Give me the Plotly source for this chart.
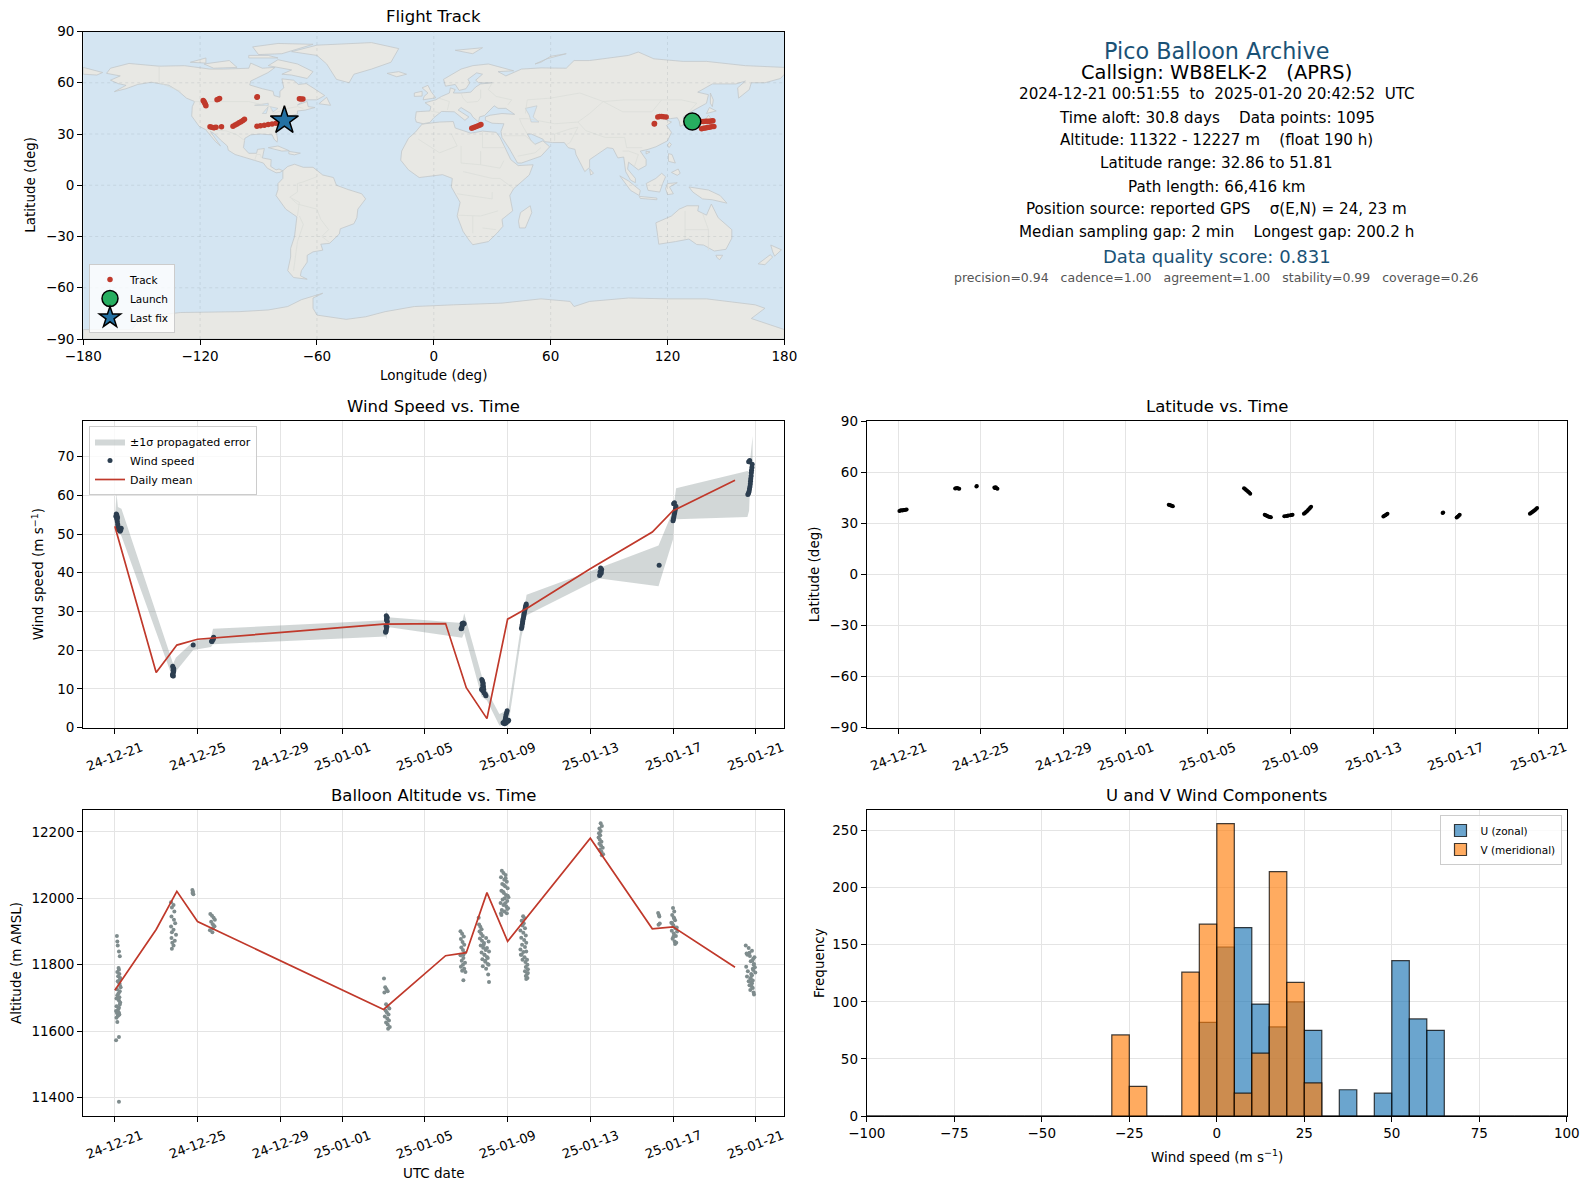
import pandas as pd
import plotly.graph_objects as go

# ---- values ----
date_ticks = ["2024-12-21", "2024-12-25", "2024-12-29", "2025-01-01", "2025-01-05",
              "2025-01-09", "2025-01-13", "2025-01-17", "2025-01-21"]
date_labels = ["24-12-21", "24-12-25", "24-12-29", "25-01-01", "25-01-05",
               "25-01-09", "25-01-13", "25-01-17", "25-01-21"]
date_range = ["2024-12-19 11:17", "2025-01-22 09:20"]

# track points (lon, lat)
track_lon = [137.5, 138.5, 139.5, 140.5, 141.5, 142.5, 143.3, 137.5, 138.5, 139.5, 140.5, 141.5, 142.5, 143.8,
             115, 116, 117, 118, 119.3, 113.2, 113.3,
             19.5, 20.5, 21.5, 22.5, 23.5, 24.2,
             -90.8, -89, -87, -85, -83, -81, -79, -77.5, -76,
             -103.1, -102, -101, -100, -99, -98, -97.2,
             -109, -114.9, -114, -113, -112.5, -111.8,
             -118.4, -118, -117.7, -117.3, -117, -110.7, -110, -111.3, -90.8, -90.6, -68.2, -67.2, -69]
track_lat = [37.3, 37.3, 37.4, 37.5, 37.5, 37.6, 37.7, 33, 33.3, 33.5, 33.8, 34, 34.2, 34.4,
             40, 40.2, 40.2, 40.1, 40, 35.9, 36.2,
             33.4, 33.8, 34.2, 34.7, 35.1, 35.5,
             34.5, 34.8, 35.1, 35.5, 35.9, 36.3, 36.8, 37.3, 37.9,
             34.5, 35.2, 35.9, 36.6, 37.2, 37.9, 38.6,
             34.3, 34.2, 33.9, 33.7, 33.8, 33.9,
             49.6, 49, 48.3, 47.4, 46.6, 50.4, 50.8, 50.1, 51.5, 51.8, 50.5, 50.5, 50.7]
launch_lon, launch_lat = [132.7], [37.3]
last_lon, last_lat = [-76.7], [37.9]

# wind speed samples, days since 2024-12-21
wind_days = [0.05, 0.07, 0.09, 0.11, 0.13, 0.08, 0.1, 0.12, 0.14, 0.15, 0.16, 0.17, 0.18, 0.2, 0.22, 0.25, 0.28, 0.31,
             2.8, 2.82, 2.84, 2.85, 2.83, 2.81, 2.8, 2.83, 2.85, 2.82, 2.79,
             3.79,
             4.68, 4.72, 4.75, 4.78, 4.7, 4.76,
             13.1, 13.12, 13.14, 13.16, 13.18, 13.15, 13.17, 13.13, 13.11, 13.12, 13.14, 13.16,
             16.75, 16.78, 16.8, 16.83, 16.86, 16.9, 16.78, 16.8,
             17.75, 17.78, 17.8, 17.82, 17.8, 17.83, 17.78, 17.74, 17.8, 17.86, 17.92, 17.95, 17.84,
             18.78, 18.82, 18.85, 18.88, 18.9, 18.92, 18.95, 18.98, 19.02, 19.05, 18.86, 18.9, 18.93, 18.96,
             19.67, 19.69, 19.7, 19.72, 19.73, 19.74, 19.76, 19.78, 19.79, 19.8, 19.82, 19.84, 19.86, 19.88, 19.89, 19.9,
             23.45, 23.48, 23.5, 23.52, 23.55, 23.5, 23.47, 23.53,
             26.33,
             27.0, 27.02, 27.04, 27.06, 27.08, 27.1, 27.12, 27.14, 27.03, 27.07,
             30.62, 30.65, 30.68, 30.7, 30.72, 30.74, 30.75, 30.76, 30.78, 30.79, 30.8, 30.82, 30.83, 30.66, 30.71]
wind_speed = [54.6, 55.2, 55, 54.6, 54.2, 54.3, 53.8, 53.2, 52.5, 52, 51.5, 51.2, 51.6, 51.1, 51.4, 50.7, 51, 51.5,
              15.8, 15.4, 15, 14.6, 14.2, 13.8, 13.4, 13.3, 15.2, 14.8, 13.6,
              21.3,
              22.3, 22.6, 23, 23.3, 22.2, 22.8,
              24.6, 25, 25.5, 26, 27.4, 28, 28.5, 28.9, 24.8, 26.2, 27.8, 28.3,
              25.5, 25.8, 26.2, 26.6, 27, 26.8, 25.6, 26.9,
              12.4, 12.1, 11.7, 11.3, 10.9, 10.5, 10.1, 9.8, 9.5, 9, 8.6, 8.2, 9.9,
              1.2, 1.1, 1.5, 2, 2.6, 3.2, 3.8, 4.3, 1.6, 1.9, 1, 1.3, 1.2, 1.7,
              25.6, 26, 26.5, 27, 27.4, 27.9, 28.3, 28.8, 29.2, 29.6, 30, 30.5, 31, 31.3, 31.6, 31.9,
              39.3, 39.6, 40, 40.4, 40.8, 41.2, 40.2, 39.9,
              41.9,
              53.4, 53.9, 54.4, 55, 55.5, 56, 56.6, 57.2, 57.8, 58.1,
              60.2, 60.5, 61, 61.6, 62.2, 62.9, 63.6, 64.3, 65, 65.8, 66.5, 67.2, 68, 68.7, 69]

# +/- 1 sigma band vertices
band_days = [0.02, 0.08, 0.15, 0.32, 2.82, 2.95, 3.79, 4.65, 4.75, 13.1, 13.14, 13.2, 16.8, 16.9, 17.74, 18.0,
             18.6, 19.03, 19.67, 19.92, 23.46, 26.3, 27.0, 27.05, 27.15, 30.6, 30.68, 30.75, 30.85]
band_lower = [53, 52, 51, 49.5, 12.5, 14.5, 20, 20.8, 21.5, 23.5, 22.8, 26, 23.2, 24.5, 8, 7,
              0.5, 0.5, 23.5, 29, 38.5, 36.5, 48.6, 53.8, 53.8, 54.4, 56, 65, 66]
band_upper = [55, 60.5, 57, 56.5, 16.5, 18, 22.2, 23.2, 25.5, 27.7, 30.5, 28.5, 27, 29.5, 13.5, 9.5,
              3.5, 4.5, 27, 34.3, 41.3, 47, 56, 58, 61.8, 66.3, 66, 70, 75.3]

mean_days = [0, 2, 3, 4, 13, 16, 17, 18, 19, 20, 23, 26, 27, 30]
wind_mean = [52, 14.2, 21.3, 22.8, 26.7, 26.85, 10.3, 2.3, 28, 31, 41, 50.5, 56, 63.9]

# latitude samples
lat_days = [0.05, 0.1, 0.15, 0.2, 0.25, 0.3, 0.35, 0.4,
            2.75, 2.8, 2.85, 2.9, 2.95, 3.78, 3.8, 4.65, 4.7, 4.75, 4.8, 4.72, 4.68,
            13.1, 13.15, 13.2, 13.25, 13.3,
            16.75, 16.8, 16.85, 16.9, 16.95, 17.0, 17.05,
            17.75, 17.8, 17.85, 17.9, 17.95, 18.0, 18.05,
            18.7, 18.8, 18.85, 18.9, 19.0, 19.05, 19.1,
            19.65, 19.7, 19.75, 19.8, 19.85, 19.9, 19.95, 20.0,
            23.5, 23.55, 23.6, 23.65, 23.7,
            26.37, 26.4, 27.05, 27.1, 27.15, 27.2,
            30.6, 30.65, 30.7, 30.75, 30.8, 30.85, 30.9, 30.95]
lat_deg = [37.2, 37.4, 37.6, 37.5, 37.7, 37.8, 37.9, 38,
           50.3, 50.5, 50.6, 50.4, 50.2, 51.6, 51.9, 51, 50.8, 50.5, 50.2, 51.1, 50.7,
           40.8, 40.6, 40.4, 40.2, 40,
           50.5, 50, 49.5, 49, 48.5, 48, 47.3,
           35, 34.7, 34.4, 34.1, 33.8, 33.6, 33.5,
           34.1, 34.2, 34.4, 34.5, 34.6, 34.8, 34.9,
           35.5, 36, 36.5, 37, 37.7, 38.3, 39, 39.7,
           33.9, 34.3, 34.7, 35.1, 35.5,
           36, 36.2, 33.3, 33.8, 34.4, 35,
           35.6, 36, 36.4, 36.8, 37.3, 37.8, 38.3, 38.9]

# altitude samples
alt_days = [0.1, 0.12, 0.14, 0.2, 0.24, 0.18, 0.2, 0.12, 0.22, 0.16, 0.26, 0.24, 0.14, 0.22, 0.24, 0.28, 0.1, 0.24, 0.18, 0.12,
            0.22, 0.08, 0.2, 0.26, 0.24, 0.08, 0.2, 0.16, 0.06, 0.2, 0.22, 0.14, 0.08, 0.18, 0.1, 0.12, 0.2, 0.06, 0.2,
            2.72, 2.84, 2.76, 2.88, 2.74, 2.86, 2.92, 2.72, 2.84, 2.76, 2.96, 2.74, 2.9, 2.78, 2.84, 2.76,
            3.75, 3.78, 3.8, 3.76,
            4.62, 4.7, 4.78, 4.84, 4.66, 4.74, 4.82, 4.74, 4.6, 4.72,
            13.02, 13.08, 13.14, 13.2, 13.04, 13.12, 13.2, 13.28, 13.1, 13.16, 13.24, 13.06, 13.18, 13.26, 13.12, 13.2, 13.3, 13.22,
            16.72, 16.8, 16.88, 16.74, 16.82, 16.9, 16.76, 16.84, 16.92, 16.72, 16.86, 16.78, 16.94, 16.84, 16.74, 16.9, 16.8, 16.96, 16.86, 16.86,
            17.6, 17.62, 17.68, 17.74, 17.64, 17.72, 17.8, 17.66, 17.76, 17.86, 17.7, 17.82, 17.94, 17.74, 17.88, 18.0, 17.78, 17.92, 18.04, 17.8,
            17.96, 18.08, 17.84, 18.0, 18.1, 17.88, 18.04, 17.92, 18.08, 17.96, 18.06, 18.1,
            18.72, 18.8, 18.9, 18.68, 18.84, 18.96, 18.74, 18.88, 19.0, 18.7, 18.82, 18.92, 19.04, 18.76, 18.86, 18.98, 18.66, 18.8, 18.94, 19.02,
            18.72, 18.84, 18.96, 18.7, 18.82, 18.9, 19.0, 18.78, 18.88, 18.68, 18.98,
            19.75, 19.82, 19.68, 19.78, 19.72, 19.84, 19.62, 19.76, 19.88, 19.66, 19.8, 19.9, 19.7, 19.84, 19.62, 19.76, 19.9, 19.64, 19.82, 19.94,
            19.68, 19.86, 19.96, 19.72, 19.88, 19.98, 19.84, 19.94, 19.88, 19.96, 19.9, 19.98,
            23.5, 23.56, 23.44, 23.5, 23.42, 23.48, 23.4, 23.46, 23.54, 23.44, 23.52, 23.6, 23.46, 23.54, 23.62, 23.56,
            26.28, 26.34, 26.3, 26.36, 26.32,
            27.0, 27.06, 26.96, 27.04, 27.1, 26.92, 27.02, 27.12, 26.94, 27.04, 27.14, 26.98, 27.08, 27.16, 27.1, 27.2, 26.96, 27.06, 27.18, 27.02,
            30.52, 30.66, 30.82, 30.56, 30.72, 30.88, 30.6, 30.76, 30.92, 30.54, 30.7, 30.86, 30.62, 30.78, 30.94, 30.58, 30.74, 30.9, 30.66,
            30.82, 30.96, 30.7, 30.86, 30.98, 30.74, 30.9, 30.76, 30.92, 30.78, 30.88, 30.8, 30.84, 30.82, 30.86]
alt_m = [11886, 11870, 11858, 11840, 11825, 11790, 11785, 11778, 11772, 11765, 11760, 11755, 11750, 11744, 11738, 11732, 11726, 11720, 11714, 11708,
         11702, 11698, 11692, 11686, 11680, 11675, 11670, 11665, 11660, 11655, 11650, 11645, 11640, 11648, 11654, 11627, 11582, 11572, 11387,
         11988, 11980, 11972, 11960, 11945, 11935, 11925, 11915, 11905, 11898, 11890, 11880, 11872, 11866, 11858, 11848,
         12025, 12020, 12012, 12016,
         11953, 11947, 11941, 11935, 11929, 11922, 11916, 11910, 11904, 11898,
         11758, 11732, 11726, 11720, 11716, 11681, 11674, 11668, 11662, 11656, 11650, 11644, 11638, 11632, 11626, 11620, 11612, 11607,
         11901, 11893, 11885, 11877, 11868, 11860, 11852, 11844, 11836, 11828, 11820, 11812, 11806, 11800, 11794, 11788, 11782, 11778, 11830, 11753,
         11941, 11921, 11914, 11907, 11900, 11893, 11886, 11879, 11872, 11865, 11858, 11851, 11844, 11837, 11830, 11823, 11816, 11809, 11802, 11795,
         11880, 11870, 11860, 11850, 11840, 11830, 11820, 11812, 11800, 11788, 11770, 11748,
         12083, 12076, 12070, 12063, 12056, 12050, 12043, 12036, 12030, 12023, 12016, 12010, 12003, 11996, 12000, 11992, 11986, 11980, 11975, 11970,
         11965, 11960, 11955, 11950, 12040, 12060, 12008, 12020, 11985, 11955, 11968,
         11946, 11940, 11932, 11925, 11918, 11910, 11903, 11896, 11888, 11881, 11874, 11866, 11860, 11853, 11846, 11838, 11840, 11830, 11822, 11815,
         11830, 11808, 11800, 11815, 11793, 11786, 11780, 11772, 11766, 11760, 11757, 11775,
         12226, 12218, 12210, 12203, 12196, 12190, 12183, 12176, 12170, 12164, 12158, 12152, 12146, 12140, 12133, 12130,
         11956, 11945, 11920, 11924, 11950,
         11971, 11960, 11950, 11942, 11934, 11926, 11918, 11910, 11902, 11894, 11886, 11878, 11870, 11866, 11862, 11900, 11925, 11938, 11912, 11884,
         11858, 11850, 11842, 11834, 11826, 11818, 11830, 11810, 11802, 11794, 11836, 11788, 11780, 11772, 11822, 11764, 11758, 11800, 11750,
         11744, 11792, 11738, 11730, 11776, 11724, 11716, 11760, 11710, 11748, 11784, 11735, 11812, 11768, 11752]

alt_mean_days = [0, 2, 3, 4, 13, 16, 17, 18, 19, 20, 23, 26, 27, 30]
alt_mean = [11723, 11906, 12021, 11930, 11665, 11827, 11836, 12017, 11870, 11948, 12181, 11908, 11914, 11792]

# histogram counts, bins are 5 m/s wide
bin_left = list(range(-100, 100, 5))
u_counts = [0] * 19 + [82, 148, 165, 98, 78, 100, 75, 0, 23, 0, 20, 136, 85, 75] + [0] * 7
v_counts = [0] * 14 + [71, 26, 0, 0, 126, 168, 256, 20, 55, 214, 117, 29] + [0] * 14

info_lines = [
    ("Pico Balloon Archive", 22.3, "#1a5276", 50.7),
    ("Callsign: WB8ELK-2   (APRS)", 19.4, "#000000", 73),
    ("2024-12-21 00:51:55  to  2025-01-20 20:42:52  UTC", 15.15, "#000000", 94.5),
    ("Time aloft: 30.8 days    Data points: 1095", 15.15, "#000000", 117.7),
    ("Altitude: 11322 - 12227 m    (float 190 h)", 15.15, "#000000", 140.2),
    ("Latitude range: 32.86 to 51.81", 15.15, "#000000", 163.4),
    ("Path length: 66,416 km", 15.15, "#000000", 186.7),
    ("Position source: reported GPS    σ(E,N) = 24, 23 m", 15.15, "#000000", 209),
    ("Median sampling gap: 2 min    Longest gap: 200.2 h", 15.15, "#000000", 232.4),
    ("Data quality score: 0.831", 18, "#1a5276", 256.7),
    ("precision=0.94   cadence=1.00   agreement=1.00   stability=0.99   coverage=0.26", 12.5, "#555555", 278),
]

# ---- rough world outlines (lon, lat) ----
north_america = [(-168, 65.5), (-166, 68.5), (-156.5, 71.3), (-141, 69.7), (-128, 70), (-115, 68), (-108, 68), (-95, 68.5), (-94, 71.5), (-88, 68.5), (-81.5, 69), (-85, 66), (-94, 61), (-94.5, 58.7), (-88, 56.5), (-82.5, 55), (-82, 52.5), (-79, 51.5), (-79, 55), (-77, 57), (-78, 62.3), (-72, 61.5), (-69.5, 59), (-65.5, 59.5), (-62, 57), (-56, 52.5), (-60, 50), (-66, 50), (-70, 47), (-65, 49), (-64.5, 46), (-61, 45.5), (-66, 44), (-70, 43.5), (-70, 41.7), (-74, 40.5), (-75.5, 38), (-76, 35), (-81, 32), (-80.2, 27), (-80.5, 25.2), (-82, 27), (-83, 29.5), (-89, 30), (-94, 29.5), (-97, 27.5), (-97.7, 22), (-95, 18.7), (-91, 18.7), (-90.5, 21), (-87, 21.5), (-88, 16), (-83.5, 15), (-83.7, 11), (-81, 9), (-79.5, 9.5), (-77.5, 8.5), (-79, 7.5), (-81, 7.3), (-85.5, 10), (-87.5, 13), (-92, 14.5), (-96, 15.8), (-102, 18), (-105.5, 20.5), (-106, 23), (-109.5, 26.5), (-112.5, 30), (-114.7, 31.5), (-112, 27), (-109.5, 23), (-112, 25.5), (-115.5, 30), (-117.2, 32.6), (-120.5, 34.5), (-122.5, 37.5), (-124.3, 40.5), (-124, 46), (-122.8, 49), (-127, 51), (-131, 55), (-136, 58.5), (-145, 60.3), (-152, 59), (-158, 56.5), (-164, 54.8), (-158, 58.5), (-162, 59.5), (-166, 61.5), (-161, 64)]
greenland = [(-73, 78.2), (-60, 82), (-32, 83.5), (-18, 80), (-22, 72), (-32, 68), (-41, 65), (-43.5, 60), (-50, 62), (-53, 67), (-55, 71), (-60, 76)]
baffin = [(-80, 73.5), (-70, 71), (-62, 66.5), (-65, 62.5), (-73, 64.5), (-78, 65), (-73, 67.5), (-85, 70)]
victoria = [(-118, 71), (-105, 73), (-101, 69), (-113, 68.5)]
ellesmere = [(-90, 76.5), (-78, 77), (-62, 82.5), (-80, 83), (-93, 81)]
banks = [(-125, 72), (-117, 74.5), (-117, 71.5)]
devon = [(-95, 74.5), (-80, 74.5), (-85, 76), (-95, 76)]
newfoundland = [(-59, 47.7), (-53, 46.8), (-55, 51.5)]
cuba = [(-85, 22), (-80, 23), (-74.2, 20.2), (-78, 20)]
hispaniola = [(-74.4, 19.8), (-68.5, 18.8), (-71.5, 17.8), (-74.4, 18.4)]
south_america = [(-77.5, 8.5), (-75, 11), (-71.5, 12.3), (-67, 10.5), (-62, 10.5), (-57, 6), (-51.5, 4.5), (-50, 0), (-44, -2.5), (-37, -5), (-35, -8), (-39, -14), (-39.5, -19), (-41, -22.5), (-48, -25.5), (-48.5, -28.5), (-53.5, -34), (-58, -34.5), (-57, -38), (-62, -39), (-65, -41), (-65, -45), (-68, -50), (-68.5, -53), (-65, -55), (-72, -54), (-75, -50), (-73.5, -42), (-73.5, -37), (-71.5, -30), (-70.3, -18.5), (-76, -14), (-81, -6), (-80, -2.5), (-80, 1), (-77.5, 4)]
africa = [(-6, 35.8), (3, 37), (10, 37.3), (11, 33.5), (19, 30.5), (25, 31.7), (32, 31), (34, 28), (37, 21), (39.5, 15), (43.3, 11.5), (51, 12), (49, 6), (41, -2), (39, -6), (40.5, -15), (35, -20), (35.5, -24), (32.5, -28), (28, -33), (20, -34.8), (18, -32), (15, -27), (12, -18), (13.5, -10), (9, -1), (9.5, 4), (4.5, 6.2), (-4, 5), (-7.5, 4.5), (-13, 9), (-17, 14.7), (-16.5, 20), (-13, 27.5), (-9.5, 31)]
madagascar = [(49.5, -12), (50.3, -16), (47, -25), (44, -25), (43.5, -21), (44.5, -16)]
eurasia = [(-9, 37), (-9.5, 39), (-9, 43), (-2, 43.5), (-1.5, 46), (-4.5, 48.3), (1, 50), (4, 52), (8, 54), (8.5, 57), (11, 56), (10, 54), (14, 54), (19, 54.5), (21.5, 57.5), (24, 59.3), (30, 60), (23, 60), (21.5, 61.5), (25, 65), (22, 65.8), (17.5, 62), (18.5, 60), (16.5, 56.5), (13, 55.5), (11, 59), (6, 58), (5, 62), (14, 68), (20, 70), (28, 71), (41, 67), (33, 66.5), (37, 64), (45, 68), (55, 68.7), (68, 68.5), (72, 73), (80, 73), (86, 74), (100, 76), (105, 78), (113, 74), (128, 72.5), (140, 72.5), (160, 70), (180, 69), (180, 65), (178, 62.5), (170, 60), (163, 60), (162, 56), (156.5, 51), (156, 57), (160, 61), (155, 59.3), (143, 59.3), (135.5, 54.5), (141, 53), (140, 48), (132, 43), (128, 40), (129.5, 36), (126.5, 34.5), (126, 37.5), (125, 39.5), (121.5, 39), (118, 39), (122, 37), (119.5, 35), (122, 31), (120, 26), (114, 22.5), (110, 21), (106, 20), (109, 15), (109, 11.5), (105, 9), (103, 11), (100, 13.5), (99.5, 9.5), (103.5, 4), (103.5, 1.5), (101, 3), (98.5, 8), (97.5, 16.5), (94.5, 16), (92, 21.5), (89, 22), (86.5, 20), (80, 15), (80, 10.5), (77.5, 8), (73, 18), (72.5, 21), (69, 22), (67, 25), (61, 25), (57, 25.5), (56, 27), (50, 30), (48, 30), (50, 26), (52, 24), (56, 26), (59.5, 22.5), (55, 17), (45, 13), (43, 13), (39, 21), (35, 28), (34.5, 31.5), (36, 36), (30, 36.3), (26.5, 38), (26.5, 40), (29, 41), (35, 42), (41.5, 41.5), (37, 45), (33, 45), (31, 46.5), (28, 43), (26, 40.8), (23.5, 40), (23, 37), (20, 40), (19, 42), (14, 45.5), (12.5, 44), (18, 40), (16, 38), (10.5, 43), (4, 43.2), (0, 39.5), (-2, 36.8), (-5.5, 36)]
chukotka = [(-180, 69), (-170, 66), (-173, 64.5), (-180, 65)]
britain = [(-5.5, 50), (1, 51.2), (-1.5, 55), (-3, 58.5), (-6, 57), (-3, 54), (-5, 52)]
ireland = [(-10, 52), (-6, 52.2), (-6, 55), (-10, 54)]
iceland = [(-24, 65.5), (-18, 66.5), (-14, 65), (-19, 63.5)]
svalbard = [(11, 79), (25, 80.5), (20, 77)]
novaya_zemlya = [(52, 71), (58, 74), (68, 77), (60, 75.5), (55, 72)]
sakhalin = [(142, 54), (143.5, 50), (143, 46), (142, 48)]
honshu = [(130, 33), (135.5, 34), (140, 35), (142, 39.5), (141, 41), (139.5, 38.5), (136, 36), (131, 34.5)]
hokkaido = [(140, 42), (141.5, 45.5), (145, 43.5), (141.5, 42.5)]
taiwan = [(121, 25), (122, 24), (120.8, 22), (120, 23.5)]
hainan = [(109, 20), (111, 19.5), (109, 18.3)]
luzon = [(120.5, 18.5), (122.3, 18), (124, 13), (120.5, 14)]
mindanao = [(122, 7.5), (125.5, 9.5), (126.5, 7), (125, 5.8)]
sumatra = [(95.5, 5.5), (100, 2.5), (106, -3), (105.5, -6), (101, -3)]
java = [(105.5, -6.5), (114.5, -7.5), (114.5, -8.5), (106, -7.7)]
borneo = [(109, 1), (114, 4), (117, 7), (119, 5), (117.5, 1), (116, -4), (110, -3)]
sulawesi = [(120, 1), (125, 1.5), (121, -1), (123, -5), (120, -5.5), (119, -2)]
new_guinea = [(131, -1), (141, -2.8), (147, -6), (150.5, -10.5), (143, -8.5), (138, -8), (133, -4)]
australia = [(114, -22), (122, -18), (126, -14), (130, -12), (136, -12), (135.5, -15), (140, -17.5), (142.5, -11), (146, -19), (153, -26), (153, -31), (150, -37.5), (144, -38.5), (138.5, -35), (135, -34.7), (131, -31.5), (124, -33), (115.5, -34.5), (115, -30)]
tasmania = [(144.8, -41), (148.3, -41), (146.8, -43.6), (145.5, -42.5)]
nz_north = [(173, -35), (178.5, -37.8), (175, -41.5), (174, -39)]
nz_south = [(172.7, -40.7), (174, -42), (170, -46.5), (166.5, -46)]
sri_lanka = [(80, 9.7), (82, 7), (80.5, 6)]
antarctica = [(-180, -84.5), (-155, -84.5), (-150, -77), (-130, -74.5), (-100, -74), (-85, -73), (-75, -71), (-68, -67), (-57, -63.2), (-62, -66), (-62, -72), (-60, -76), (-45, -78.5), (-35, -77), (-25, -74), (-10, -71), (10, -70), (35, -69), (55, -66.5), (70, -68), (72, -71), (80, -68), (100, -66), (120, -66.5), (140, -66.5), (165, -70), (170, -72), (163, -78), (180, -84.5), (180, -90), (-180, -90)]
land_shapes = [north_america, greenland, baffin, victoria, ellesmere, banks, devon, newfoundland, cuba, hispaniola,
               south_america, africa, madagascar, eurasia, chukotka, britain, ireland, iceland, svalbard, novaya_zemlya,
               sakhalin, honshu, hokkaido, taiwan, hainan, luzon, mindanao, sumatra, java, borneo, sulawesi, new_guinea,
               australia, tasmania, nz_north, nz_south, sri_lanka, antarctica]

caspian = [(47, 45), (53, 46.5), (51, 40), (54, 37), (50, 37), (49, 41)]
lake_superior = [(-92, 46.8), (-85, 48), (-85, 46.7)]
lake_michigan = [(-88, 42), (-85, 46), (-86, 42)]
lake_huron = [(-84, 46), (-80, 45), (-82.5, 43)]
water_shapes = [caspian, lake_superior, lake_michigan, lake_huron]

borders = [
    [(-123, 49), (-95, 49), (-84, 46), (-82.5, 42), (-75, 45), (-70, 46), (-67, 45)],
    [(-141, 69.7), (-141, 60), (-130, 55)],
    [(-117, 32.6), (-106.5, 31.8), (-101, 29.5), (-97, 26)],
    [(-92, 14.5), (-91, 18), (-89, 18), (-88.5, 16)],
    [(-70, -18), (-69, -10), (-74, -7), (-70, -4), (-70, 1), (-67, 2), (-60, 5)],
    [(-73, -8), (-70, -11), (-60, -14), (-58, -20), (-54, -26), (-57.5, -30), (-53.5, -33.5)],
    [(-69, -18), (-67, -23), (-70, -33), (-72, -50)],
    [(-8, 27), (0, 21.5), (3, 19), (12, 23), (9, 30)],
    [(25, 31.7), (25, 22), (36, 22)],
    [(14, 23), (14, 13), (24, 12), (24, 20)],
    [(24, 12), (34, 10), (36, 14.5)],
    [(15, 8), (30, 4), (34, 4), (41, -2)],
    [(12, -5), (30, -8), (30, -4)],
    [(12, -17.5), (24, -18), (33, -15)],
    [(20, -28), (20, -18)],
    [(32, -26), (25, -25)],
    [(-1.7, 43.4), (3, 42.5)],
    [(2.5, 51), (8, 49), (7, 44)],
    [(14, 54), (15, 51), (17, 48.5), (22.5, 49), (24, 51), (24, 56)],
    [(30, 60), (28, 56), (32, 52), (40, 50), (38, 47)],
    [(47, 42), (48, 50), (60, 51), (75, 54), (87, 49), (98, 50), (108, 50), (117, 50), (127, 50), (135, 48), (131, 43)],
    [(48, 39), (62, 36), (74, 37), (80, 42), (87, 49)],
    [(74, 37), (78, 32), (88, 28), (98, 28), (99, 22), (107, 22)],
    [(87, 49), (97, 43), (112, 43), (117, 50)],
    [(62, 26), (62, 30), (70, 33), (74, 34), (70, 25), (68, 23.7)],
    [(48, 30), (45, 36), (44, 39), (48, 39)],
    [(36, 29), (47, 29), (52, 24)],
    [(43, 17), (52, 19), (55, 22)],
    [(97, 20), (100, 20), (105, 18), (103, 11)],
    [(129, -15), (129, -31.5)],
    [(138, -16.5), (141, -26), (141, -38)],
    [(129, -26), (141, -26)],
]

# ---- layout in pixels of the 1589x1189 page ----
# the page body keeps an 8 px margin, so the figure is that much smaller and everything shifts by it
PAGE_MARGIN = 8
W, H = 1589 - PAGE_MARGIN, 1189 - 2 * PAGE_MARGIN
LEFT = (83.2, 784.4)
RIGHT = (866.8, 1566.8)
ROW1 = (31.5, 339)
ROW2 = (421, 727.5)
ROW3 = (810, 1116)
FONT = "DejaVu Sans"
GRID = "#e4e4e4"
OCEAN = "#d4e5f2"
LAND = "#e8e8e4"
COAST = "#c3c8ca"
RED = "#c0392b"
DARK = "#2c3e50"
GREY = "#7f8c8d"


def px(x):
    return (x - PAGE_MARGIN) / W


def py(y):
    return 1 - (y - PAGE_MARGIN) / H


def xdom(p):
    return [px(p[0]), px(p[1])]


def ydom(p):
    return [py(p[1]), py(p[0])]


def dates(days):
    stamps = pd.Timestamp("2024-12-21") + pd.to_timedelta(days, unit="D")
    return list(stamps.strftime("%Y-%m-%d %H:%M:%S"))


def split_xy(shape):
    pts = shape + [shape[0]]
    return [p[0] for p in pts], [p[1] for p in pts]


fig = go.Figure()

# flight track map
for shape in land_shapes:
    xs, ys = split_xy(shape)
    fig.add_trace(go.Scatter(x=xs, y=ys, mode="lines", fill="toself", fillcolor=LAND,
                             line=dict(color=COAST, width=0.8), showlegend=False, hoverinfo="skip",
                             xaxis="x", yaxis="y"))
for shape in water_shapes:
    xs, ys = split_xy(shape)
    fig.add_trace(go.Scatter(x=xs, y=ys, mode="lines", fill="toself", fillcolor=OCEAN,
                             line=dict(color=COAST, width=0.6), showlegend=False, hoverinfo="skip",
                             xaxis="x", yaxis="y"))
border_x, border_y = [], []
for line in borders:
    border_x += [p[0] for p in line] + [None]
    border_y += [p[1] for p in line] + [None]
fig.add_trace(go.Scatter(x=border_x, y=border_y, mode="lines", line=dict(color="#dadcd9", width=0.7),
                         showlegend=False, hoverinfo="skip", xaxis="x", yaxis="y"))

fig.add_trace(go.Scatter(x=track_lon, y=track_lat, mode="markers", name="Track",
                         marker=dict(color=RED, size=5.5), legend="legend", xaxis="x", yaxis="y"))
fig.add_trace(go.Scatter(x=launch_lon, y=launch_lat, mode="markers", name="Launch",
                         marker=dict(color="#27ae60", size=17, line=dict(color="black", width=1.5)),
                         legend="legend", xaxis="x", yaxis="y"))
fig.add_trace(go.Scatter(x=last_lon, y=last_lat, mode="markers", name="Last fix",
                         marker=dict(color="#2471a3", size=21, symbol="star", line=dict(color="black", width=1.5)),
                         legend="legend", xaxis="x", yaxis="y"))

# wind speed
fig.add_trace(go.Scatter(x=dates(band_days), y=band_upper, mode="lines", line=dict(width=0, color=GREY),
                         showlegend=False, hoverinfo="skip", xaxis="x2", yaxis="y2"))
fig.add_trace(go.Scatter(x=dates(band_days), y=band_lower, mode="lines", line=dict(width=0, color=GREY),
                         fill="tonexty", fillcolor="rgba(127,140,141,0.35)", name="±1σ propagated error",
                         legend="legend2", xaxis="x2", yaxis="y2"))
fig.add_trace(go.Scatter(x=dates(wind_days), y=wind_speed, mode="markers", name="Wind speed",
                         marker=dict(color=DARK, size=5), legend="legend2", xaxis="x2", yaxis="y2"))
fig.add_trace(go.Scatter(x=dates(mean_days), y=wind_mean, mode="lines", name="Daily mean",
                         line=dict(color=RED, width=1.7), legend="legend2", xaxis="x2", yaxis="y2"))

# latitude
fig.add_trace(go.Scatter(x=dates(lat_days), y=lat_deg, mode="markers", marker=dict(color="black", size=4),
                         showlegend=False, xaxis="x3", yaxis="y3"))

# altitude
fig.add_trace(go.Scatter(x=dates(alt_days), y=alt_m, mode="markers", marker=dict(color=GREY, size=4),
                         showlegend=False, xaxis="x4", yaxis="y4"))
fig.add_trace(go.Scatter(x=dates(alt_mean_days), y=alt_mean, mode="lines", line=dict(color=RED, width=1.7),
                         showlegend=False, xaxis="x4", yaxis="y4"))

# wind components histogram
bin_mid = [b + 2.5 for b in bin_left]
fig.add_trace(go.Bar(x=bin_mid, y=u_counts, width=5, name="U (zonal)", legend="legend3",
                     marker=dict(color="rgba(31,119,180,0.66)", line=dict(color="rgba(0,0,0,0.75)", width=1.2)),
                     xaxis="x5", yaxis="y5"))
fig.add_trace(go.Bar(x=bin_mid, y=v_counts, width=5, name="V (meridional)", legend="legend3",
                     marker=dict(color="rgba(255,127,14,0.66)", line=dict(color="rgba(0,0,0,0.75)", width=1.2)),
                     xaxis="x5", yaxis="y5"))

axis_base = dict(showline=True, linecolor="black", linewidth=1.2, mirror=True, ticks="outside", ticklen=5,
                 tickwidth=1, tickcolor="black", showgrid=True, gridcolor=GRID, gridwidth=1, zeroline=False,
                 automargin=False, tickfont=dict(family=FONT, size=13.5, color="black"))
date_axis = dict(axis_base, type="date", range=date_range, tickmode="array", tickvals=date_ticks,
                 showticklabels=False)

lon_ticks = list(range(-180, 181, 60))
lat_ticks = list(range(-90, 91, 30))
fig.update_layout(
    width=W, height=H, margin=dict(l=0, r=0, t=0, b=0), autosize=False,
    paper_bgcolor="white", plot_bgcolor="white", barmode="overlay",
    font=dict(family=FONT, size=13.5, color="black"),
    xaxis=dict(axis_base, domain=xdom(LEFT), range=[-180, 180], tickvals=lon_ticks, showgrid=False),
    yaxis=dict(axis_base, domain=ydom(ROW1), range=[-90, 90], tickvals=lat_ticks, showgrid=False),
    xaxis2=dict(date_axis, domain=xdom(LEFT), anchor="y2"),
    yaxis2=dict(axis_base, domain=ydom(ROW2), range=[0, 79.2], tickvals=list(range(0, 71, 10)), anchor="x2"),
    xaxis3=dict(date_axis, domain=xdom(RIGHT), anchor="y3"),
    yaxis3=dict(axis_base, domain=ydom(ROW2), range=[-90, 90], tickvals=lat_ticks, anchor="x3"),
    xaxis4=dict(date_axis, domain=xdom(LEFT), anchor="y4"),
    yaxis4=dict(axis_base, domain=ydom(ROW3), range=[11344, 12266], tickvals=[11400, 11600, 11800, 12000, 12200],
                tickformat="d", anchor="x4"),
    xaxis5=dict(axis_base, domain=xdom(RIGHT), range=[-100, 100], tickvals=list(range(-100, 101, 25)), anchor="y5"),
    yaxis5=dict(axis_base, domain=ydom(ROW3), range=[0, 268], tickvals=list(range(0, 251, 50)), anchor="x5"),
    legend=dict(x=px(89), y=py(333), xanchor="left", yanchor="bottom", bgcolor="rgba(255,255,255,0.8)",
                bordercolor="#cccccc", borderwidth=1, font=dict(family=FONT, size=10.5), itemsizing="trace",
                tracegroupgap=0),
    legend2=dict(x=px(89), y=py(426), xanchor="left", yanchor="top", bgcolor="rgba(255,255,255,0.8)",
                 bordercolor="#cccccc", borderwidth=1, font=dict(family=FONT, size=11), traceorder="normal"),
    legend3=dict(x=px(1561.5), y=py(815), xanchor="right", yanchor="top", bgcolor="rgba(255,255,255,0.8)",
                 bordercolor="#cccccc", borderwidth=1, font=dict(family=FONT, size=10.5), traceorder="normal"),
)

# map ocean and grid
fig.add_shape(type="rect", xref="x domain", yref="y domain", x0=0, x1=1, y0=0, y1=1, fillcolor=OCEAN,
              line=dict(width=0), layer="below")
for lon in lon_ticks[1:-1]:
    fig.add_shape(type="line", xref="x", yref="y domain", x0=lon, x1=lon, y0=0, y1=1,
                  line=dict(color="rgba(120,130,135,0.16)", width=1, dash="dot"), layer="above")
for lat in lat_ticks[1:-1]:
    fig.add_shape(type="line", xref="x domain", yref="y", x0=0, x1=1, y0=lat, y1=lat,
                  line=dict(color="rgba(120,130,135,0.16)", width=1, dash="dot"), layer="above")

# subplot titles
titles = [("Flight Track", LEFT, ROW1), ("Wind Speed vs. Time", LEFT, ROW2), ("Latitude vs. Time", RIGHT, ROW2),
          ("Balloon Altitude vs. Time", LEFT, ROW3), ("U and V Wind Components", RIGHT, ROW3)]
for text, xp, yp in titles:
    fig.add_annotation(text=text, xref="paper", yref="paper", x=px(sum(xp) / 2), y=py(yp[0] - 3),
                       xanchor="center", yanchor="bottom", showarrow=False,
                       font=dict(family=FONT, size=16.5, color="black"))

# axis titles, placed by hand so the axes keep their exact domains
axis_titles = [
    ("Longitude (deg)", sum(LEFT) / 2, 374.5, 0),
    ("UTC date", sum(LEFT) / 2, 1173, 0),
    ("Wind speed (m s<sup>−1</sup>)", sum(RIGHT) / 2, 1156, 0),
    ("Latitude (deg)", 30.5, sum(ROW1) / 2, -90),
    ("Wind speed (m s<sup>−1</sup>)", 38, sum(ROW2) / 2, -90),
    ("Latitude (deg)", 814, sum(ROW2) / 2, -90),
    ("Altitude (m AMSL)", 16, sum(ROW3) / 2, -90),
    ("Frequency", 819, sum(ROW3) / 2, -90),
]
for text, xpx, ypx, angle in axis_titles:
    fig.add_annotation(text=text, xref="paper", yref="paper", x=px(xpx), y=py(ypx), xanchor="center",
                       yanchor="middle", textangle=angle, showarrow=False,
                       font=dict(family=FONT, size=13.5, color="black"))

# rotated date labels, centred under their ticks
for xname, row in (("x2", ROW2), ("x3", ROW2), ("x4", ROW3)):
    for tick, label in zip(date_ticks, date_labels):
        fig.add_annotation(text=label, xref=xname, yref="paper", x=tick, y=py(row[1] + 9),
                           xanchor="center", yanchor="top", textangle=-20, showarrow=False,
                           font=dict(family=FONT, size=13, color="black"))

# info panel
for text, size, color, ypx in info_lines:
    fig.add_annotation(text=text, xref="paper", yref="paper", x=px(1216.5), y=py(ypx),
                       xanchor="center", yanchor="middle", showarrow=False,
                       font=dict(family=FONT, size=size, color=color))

assert len(wind_days) == len(wind_speed) and len(alt_days) == len(alt_m) and len(lat_days) == len(lat_deg)
fig.write_html("out.html")
